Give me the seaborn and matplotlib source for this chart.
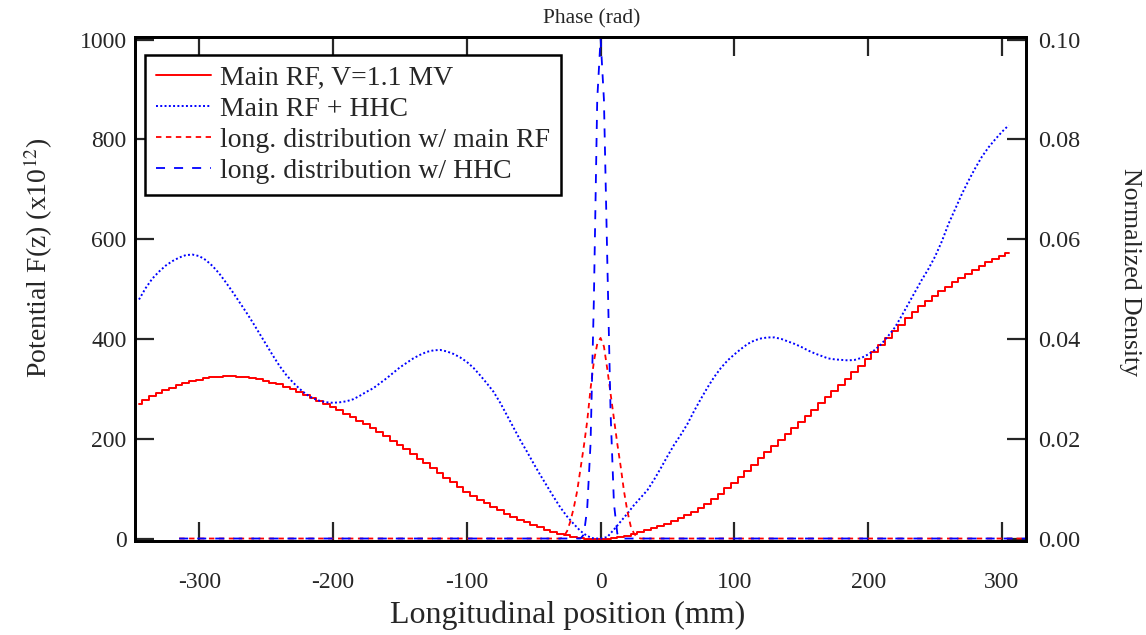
import numpy as np
import pandas as pd
import matplotlib
matplotlib.use("Agg")
import matplotlib.pyplot as plt
import seaborn as sns

# ---------------- data ----------------
# potential grid (mm)
z_pot = np.arange(-345, 306, 5)

# Main RF, V=1.1 MV  (potential, x1e12)
pot_main = [
    270, 278, 286, 292, 297, 302, 307, 311, 315, 318,   # -345 .. -300
    321, 323, 324, 325, 325, 324, 323, 321, 319, 316,   # -295 .. -250
    312, 309, 304, 299, 293, 287, 282, 276, 270, 264,   # -245 .. -200
    257, 250, 243, 236, 229, 221, 213, 205, 196, 188,   # -195 .. -150
    179, 170, 160, 151, 141, 131, 122, 113, 103, 94,    # -145 .. -100
    86, 78, 71, 64, 57, 50, 44, 38, 33, 28,             # -95 .. -50
    23, 18, 14, 10, 7, 4, 1, 0, 0, 0,                   # -45 .. 0
    0, 1, 3, 6, 9, 13, 17, 21, 25, 29,                  # 5 .. 50
    35, 41, 47, 54, 61, 70, 80, 90, 101, 112,           # 55 .. 100
    124, 136, 148, 161, 174, 186, 198, 210, 221, 233,   # 105 .. 150
    245, 258, 271, 283, 295, 308, 320, 333, 346, 359,   # 155 .. 200
    373, 387, 401, 416, 428, 441, 453, 465, 476, 487,   # 205 .. 250
    496, 505, 514, 522, 531, 539, 547, 555, 561, 567,   # 255 .. 300
    572,                                                # 305
]

# Main RF + HHC (potential, x1e12)
pot_hhc = [
    479, 502, 521, 535, 547, 556, 563, 568, 569, 566,   # -345 .. -300
    558, 546, 531, 513, 494, 474, 454, 433, 411, 389,   # -295 .. -250
    367, 346, 328, 313, 300, 289, 281, 276, 273, 272,   # -245 .. -200
    273, 275, 279, 286, 294, 301, 311, 321, 332, 343,   # -195 .. -150
    352, 361, 368, 374, 377, 378, 375, 370, 363, 354,   # -145 .. -100
    342, 327, 311, 294, 272, 247, 222, 197, 174, 150,   # -95 .. -50
    127, 105, 83, 62, 44, 29, 15, 5, 0, 0,              # -45 .. 0
    3, 18, 34, 50, 67, 82, 97, 118, 141, 165,           # 5 .. 50
    188, 208, 230, 256, 280, 303, 324, 342, 357, 369,   # 55 .. 100
    380, 390, 397, 401, 403, 403, 400, 395, 390, 384,   # 105 .. 150
    377, 371, 366, 361, 359, 358, 357, 358, 362, 369,   # 155 .. 200
    378, 390, 406, 423, 446, 470, 494, 518, 540, 565,   # 205 .. 250
    595, 630, 660, 690, 717, 742, 765, 784, 800, 815,   # 255 .. 300
    828,                                                # 305
]

# longitudinal distributions (normalized density)
z_dist_rf = [-315, -30, -27.5, -25, -22.5, -20, -17.5, -15, -12.5, -10, -7.5, -5,
             -2.5, 0, 2.5, 5, 7.5, 10, 12.5, 15, 17.5, 20, 22.5, 25, 27.5, 30, 318]
dens_rf = [0, 0, 0.0004, 0.0015, 0.0035, 0.0062, 0.0095, 0.0140, 0.0185, 0.0235,
           0.0300, 0.0355, 0.0390, 0.0402, 0.0385, 0.0340, 0.0290, 0.0240, 0.0190,
           0.0145, 0.0095, 0.0055, 0.0025, 0.0010, 0.0002, 0, 0]

z_dist_hhc = [-315, -15, -12.5, -10, -7.5, -5, -2.5, 0, 2.5, 5, 7.5, 10, 12.5, 15, 318]
dens_hhc = [0, 0, 0.0008, 0.0060, 0.0190, 0.0480, 0.0880, 0.1002, 0.0880, 0.0560,
            0.0250, 0.0070, 0.0010, 0, 0]

x_ticks = [-300, -200, -100, 0, 100, 200, 300]
y_ticks_left = [0, 200, 400, 600, 800, 1000]
y_ticks_right = [0.00, 0.02, 0.04, 0.06, 0.08, 0.10]

labels = ["Main RF, V=1.1 MV", "Main RF + HHC",
          "long. distribution w/ main RF", "long. distribution w/ HHC"]

# ---------------- style ----------------
sns.set_theme(style="ticks")
plt.rcParams["font.family"] = ["Liberation Serif", "DejaVu Serif"]
plt.rcParams["axes.unicode_minus"] = False
plt.rcParams["mathtext.fontset"] = "stix"

RED = "#ff0000"
BLUE = "#0000ff"

fig = plt.figure(figsize=(11.46, 6.35), dpi=100)
ax = fig.add_axes([0.1178, 0.148, 0.7775, 0.7937])
ax2 = ax.twinx()

df_pot = pd.DataFrame({"z": z_pot, "main": pot_main, "hhc": pot_hhc})
df_rf = pd.DataFrame({"z": z_dist_rf, "d": dens_rf})
df_hhc = pd.DataFrame({"z": z_dist_hhc, "d": dens_hhc})

sns.lineplot(data=df_pot, x="z", y="main", ax=ax, color=RED, lw=1.4,
             drawstyle="steps-mid", sort=False, label=labels[0], legend=False)
sns.lineplot(data=df_pot, x="z", y="hhc", ax=ax, color=BLUE, lw=1.4,
             linestyle=(0, (1, 1.2)), sort=False, label=labels[1], legend=False)
sns.lineplot(data=df_rf, x="z", y="d", ax=ax2, color=RED, lw=1.3,
             linestyle=(0, (3, 2.5)), sort=False, label=labels[2], legend=False)
sns.lineplot(data=df_hhc, x="z", y="d", ax=ax2, color=BLUE, lw=1.3,
             linestyle=(0, (5, 5)), sort=False, label=labels[3], legend=False)

ax.set_xlim(-348, 318)
ax.set_ylim(-5, 1005)
ax2.set_ylim(-0.0005, 0.1005)

ax.set_xticks(x_ticks)
ax.set_xticklabels([str(t) for t in x_ticks])
ax.set_yticks(y_ticks_left)
ax.set_yticklabels([str(t) for t in y_ticks_left])
ax2.set_yticks(y_ticks_right)
ax2.set_yticklabels([f"{t:.2f}" for t in y_ticks_right])

for a in (ax, ax2):
    for s in a.spines.values():
        s.set_linewidth(2.0)
        s.set_color("black")
        s.set_visible(True)

ax.tick_params(axis="x", direction="in", length=14, width=1.6, labelsize=17,
               pad=22, top=False)
ax.tick_params(axis="y", direction="in", length=14, width=1.6, labelsize=17, pad=6)
ax2.tick_params(axis="y", direction="in", length=14, width=1.6, labelsize=17.5, pad=9)

# top phase axis (ticks only)
top = ax.secondary_xaxis("top")
top.set_xticks(x_ticks)
top.set_xticklabels([])
top.tick_params(direction="in", length=14, width=1.6)
ax.text(0.512, 1.037, "Phase (rad)", transform=ax.transAxes, fontsize=15.5,
        ha="center", va="center")

ax.set_xlabel("Longitudinal position (mm)", fontsize=23, va="center")
ax.xaxis.set_label_coords(0.486, -0.147)
ax.set_ylabel(r"Potential F(z) (x10$^{12}$)", fontsize=20, va="center")
ax.yaxis.set_label_coords(-0.109, 0.563)
ax2.set_ylabel("Normalized Density", fontsize=18.5, rotation=-90, va="center")
ax2.yaxis.set_label_coords(1.117, 0.534)

h1, l1 = ax.get_legend_handles_labels()
h2, l2 = ax2.get_legend_handles_labels()
leg = ax2.legend(h1 + h2, l1 + l2, loc="upper left", bbox_to_anchor=(0.011, 0.965),
                 fontsize=20, frameon=True, fancybox=False, framealpha=1,
                 edgecolor="black", handlelength=2.0, handletextpad=0.3,
                 labelspacing=0.2, borderpad=0.4, borderaxespad=0)
leg.get_frame().set_linewidth(1.8)

fig.savefig("out.png", dpi=100)
